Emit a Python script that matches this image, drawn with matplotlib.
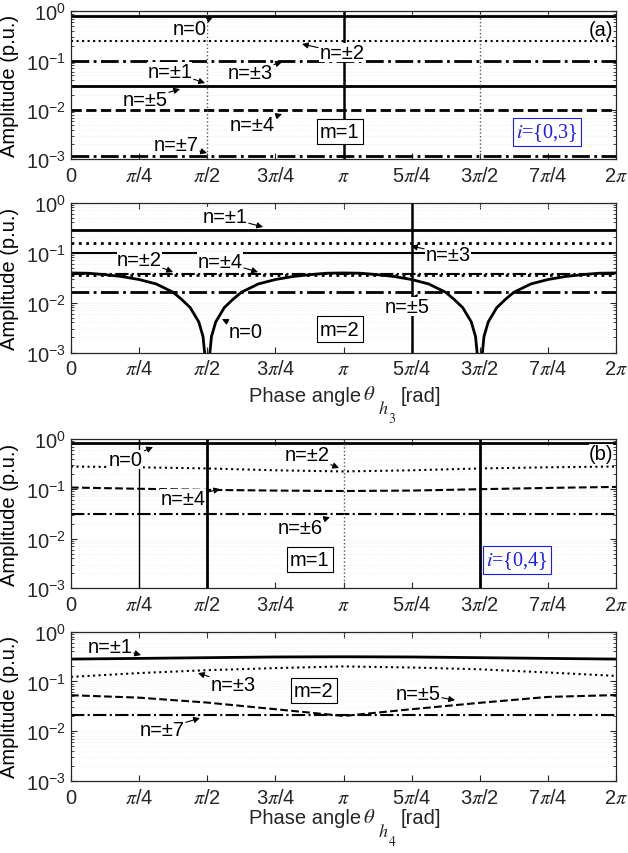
import numpy as np
import matplotlib
matplotlib.use('Agg')
import matplotlib.pyplot as plt
from matplotlib.ticker import LogLocator, NullFormatter

plt.rcParams['font.family'] = ['Liberation Sans', 'DejaVu Sans']
plt.rcParams['mathtext.fontset'] = 'stix'
plt.rcParams['font.size'] = 14

PI = np.pi

# ---- data ----
theta_flat = [0, 2 * PI]
theta_q = [k * PI / 4 for k in range(9)]          # 0, pi/4, ..., 2pi

# (a) m=1
a1_n0 = [0.81, 0.81]
a1_n2 = [0.25, 0.25]
a1_n3 = [0.10, 0.10]
a1_n1 = [0.030, 0.030]
a1_n5 = [0.031, 0.031]
a1_n4 = [0.010, 0.010]
a1_n7 = [0.00118, 0.00118]
a1_jumps = [PI / 2, PI, 3 * PI / 2]

# (a) m=2
a2_n1 = [0.284, 0.284]
a2_n3 = [0.158, 0.158]
a2_nx = [0.100, 0.100]
a2_n2 = [0.035, 0.035]
a2_n4 = [0.037, 0.037]
a2_n5 = [0.0163, 0.0163]
a2_theta_n0 = [0, 4, 8, 12, 16, 20, 24, 26, 28, 30, 31, 32, 33, 34, 36, 38, 40, 44, 48, 52, 56, 60,
               64, 68, 72, 76, 80, 84, 88, 90, 92, 94, 95, 96, 97, 98, 100, 102, 104, 108, 112, 116,
               120, 124, 128]
a2_n0 = [0.039, 0.0385, 0.036, 0.033, 0.0288, 0.0235, 0.016, 0.0115, 0.0079, 0.0041, 0.0021, 0.0003,
         0.0021, 0.0041, 0.0079, 0.0115, 0.016, 0.0235, 0.0288, 0.033, 0.036, 0.0385,
         0.039, 0.0385, 0.036, 0.033, 0.0288, 0.0235, 0.016, 0.0115, 0.0079, 0.0041, 0.0021, 0.0003,
         0.0021, 0.0041, 0.0079, 0.0115, 0.016, 0.0235, 0.0288, 0.033, 0.036, 0.0385, 0.039]
a2_jumps = [5 * PI / 4]

# (b) m=1
b1_n0 = [0.82, 0.82]
b1_n2 = [0.28, 0.27, 0.256, 0.235, 0.223, 0.235, 0.256, 0.27, 0.28]
b1_n4 = [0.106, 0.100, 0.095, 0.092, 0.090, 0.092, 0.098, 0.104, 0.109]
b1_n6 = [0.031, 0.031]
b1_jumps = [PI / 4, PI / 2, PI, 3 * PI / 2]

# (b) m=2
b2_n1 = [0.281, 0.29, 0.30, 0.31, 0.313, 0.31, 0.30, 0.29, 0.281]
b2_n3 = [0.123, 0.147, 0.168, 0.185, 0.200, 0.190, 0.175, 0.151, 0.129]
b2_n5 = [0.0526, 0.047, 0.0374, 0.0275, 0.0201, 0.0275, 0.037, 0.0486, 0.053]
b2_n7 = [0.0207, 0.0207]

xtick_labels = ['0', r'$\pi$/4', r'$\pi$/2', r'3$\pi$/4', r'$\pi$',
                r'5$\pi$/4', r'3$\pi$/2', r'7$\pi$/4', r'2$\pi$']

fig = plt.figure(figsize=(6.28, 8.54), dpi=100)
W, H = 628.0, 854.0


def make_ax(top, bottom):
    ax = fig.add_axes([71 / W, (H - bottom) / H, 545 / W, (bottom - top) / H])
    ax.set_yscale('log')
    ax.set_ylim(1e-3, 1)
    ax.set_xlim(0, 2 * PI)
    ax.set_xticks(theta_q)
    ax.set_xticklabels(xtick_labels)
    ax.yaxis.set_major_locator(LogLocator(base=10, numticks=10))
    ax.yaxis.set_minor_locator(LogLocator(base=10, subs=np.arange(2, 10), numticks=10))
    ax.yaxis.set_minor_formatter(NullFormatter())
    ax.tick_params(which='both', direction='in', top=True, right=True, colors='#262626',
                   labelcolor='#262626', labelsize=14.5)
    ax.tick_params(which='major', length=4, width=0.8)
    ax.tick_params(which='minor', length=2.5, width=0.6)
    ax.tick_params(axis='x', pad=5)
    ax.grid(True, which='both', axis='y', color='#e8e8e8', linestyle=':', linewidth=0.5)
    for s in ax.spines.values():
        s.set_color('#262626')
        s.set_linewidth(0.9)
    ax.set_ylabel('Amplitude (p.u.)', labelpad=5, fontsize=14.5)
    return ax


def label(ax, txt, xy, xytext):
    ax.annotate(txt, xy=xy, xytext=xytext, ha='center', va='center', fontsize=14.5,
                bbox=dict(boxstyle='square,pad=0', fc='white', ec='none'),
                arrowprops=dict(arrowstyle='-|>', color='k', lw=0.8, mutation_scale=9,
                                shrinkA=1, shrinkB=0))


def box(ax, txt, xy, color='k', **kw):
    ax.text(xy[0], xy[1], txt, ha='center', va='center', color=color, fontsize=14.5,
            bbox=dict(boxstyle='square,pad=0.15', fc='white', ec=color, lw=0.8), zorder=5, **kw)


def phase_label(y_main, sub):
    # MATLAB-like label with a large, low subscript
    c = '#262626'
    fig.text(361 / W, 1 - y_main / H, 'Phase angle', ha='right', va='center', fontsize=14.5, color=c)
    fig.text(363 / W, 1 - (y_main - 1) / H, r'$\theta$', ha='left', va='center', fontsize=15, color=c)
    fig.text(378 / W, 1 - (y_main + 14) / H, r'$h$', ha='left', va='center', fontsize=13, color=c)
    fig.text(388 / W, 1 - (y_main + 23) / H, r'$\mathit{' + sub + '}$', ha='left', va='center',
             fontsize=10, color=c)
    fig.text(401 / W, 1 - y_main / H, '[rad]', ha='left', va='center', fontsize=14.5, color=c)


# ---------- panel (a) m=1 ----------
ax1 = make_ax(12.3, 160.3)
ax1.plot(theta_flat, a1_n0, 'k-', lw=2)
ax1.plot(theta_flat, a1_n2, 'k:', lw=1.5)
ax1.plot(theta_flat, a1_n3, 'k-.', lw=2)
ax1.plot(theta_flat, a1_n5, 'k-', lw=1)
ax1.plot(theta_flat, a1_n1, 'k-', lw=2)
ax1.plot(theta_flat, a1_n4, 'k--', lw=2)
ax1.plot(theta_flat, a1_n7, 'k-.', lw=2)
ax1.axvline(a1_jumps[0], color='#555555', ls=':', lw=1)
ax1.axvline(a1_jumps[1], color='k', ls='-', lw=1.8)
ax1.axvline(a1_jumps[2], color='#555555', ls=':', lw=1)
label(ax1, 'n=0', (1.637, 0.766), (1.372, 0.458))
label(ax1, 'n=\u00b12', (2.663, 0.217), (3.124, 0.143))
label(ax1, 'n=\u00b13', (2.433, 0.0937), (2.064, 0.0587))
label(ax1, 'n=\u00b11', (1.545, 0.0351), (1.141, 0.0615))
label(ax1, 'n=\u00b15', (1.257, 0.0265), (0.853, 0.0166))
label(ax1, 'n=\u00b14', (2.433, 0.00826), (2.087, 0.00518))
label(ax1, 'n=\u00b17', (1.568, 0.00134), (1.211, 0.00203))
box(ax1, 'm=1', (3.10, 0.0036))
box(ax1, r'$i$={0,3}', (5.49, 0.0036), color='#1a1aff', family='Liberation Serif')
ax1.text(0.995, 0.88, '(a)', transform=ax1.transAxes, ha='right', va='center', fontsize=14.5,
         bbox=dict(boxstyle='square,pad=0', fc='white', ec='none'))

# ---------- panel (a) m=2 ----------
ax2 = make_ax(203.5, 353.5)
ax2.plot(theta_flat, a2_n1, 'k-', lw=2)
ax2.plot(theta_flat, a2_n3, 'k:', lw=2)
ax2.plot(theta_flat, a2_nx, 'k-', lw=1.5)
ax2.plot(theta_flat, a2_n2, 'k:', lw=2)
ax2.plot(theta_flat, a2_n4, 'k-.', lw=1.5)
ax2.plot(theta_flat, a2_n5, 'k-.', lw=2)
ax2.plot(np.array(a2_theta_n0) * PI / 64, a2_n0, 'k-', lw=2)
ax2.axvline(a2_jumps[0], color='k', ls='-', lw=1.8)
label(ax2, 'n=\u00b11', (2.214, 0.324), (1.775, 0.513))
label(ax2, 'n=\u00b12', (1.176, 0.0407), (0.784, 0.0741))
label(ax2, 'n=\u00b14', (2.156, 0.0407), (1.718, 0.0676))
label(ax2, 'n=0', (1.741, 0.00468), (2.018, 0.00269))
label(ax2, 'n=\u00b13', (3.92, 0.135), (4.347, 0.0933))
label(ax2, 'n=\u00b15', (4.0, 0.0148), (3.874, 0.00813))
box(ax2, 'm=2', (3.10, 0.00295))
phase_label(396, '3')

# ---------- panel (b) m=1 ----------
ax3 = make_ax(440, 589.3)
ax3.plot(theta_flat, b1_n0, 'k-', lw=2)
ax3.plot(theta_q, b1_n2, 'k:', lw=1.5)
ax3.plot(theta_q, b1_n4, 'k--', lw=1.5)
ax3.plot(theta_flat, b1_n6, 'k-.', lw=1.5)
ax3.axvline(b1_jumps[0], color='k', ls='-', lw=1)
ax3.axvline(b1_jumps[1], color='k', ls='-', lw=2)
ax3.axvline(b1_jumps[2], color='#555555', ls=':', lw=1)
ax3.axvline(b1_jumps[3], color='k', ls='-', lw=2)
label(ax3, 'n=0', (0.945, 0.69), (0.634, 0.396))
label(ax3, 'n=\u00b12', (3.09, 0.261), (2.721, 0.477))
label(ax3, 'n=\u00b14', (1.718, 0.0986), (1.291, 0.065))
label(ax3, 'n=\u00b16', (2.986, 0.0269), (2.64, 0.017))
box(ax3, 'm=1', (2.755, 0.00385))
box(ax3, r'$i$={0,4}', (5.142, 0.0037), color='#1a1aff', family='Liberation Serif')
ax3.text(0.995, 0.90, '(b)', transform=ax3.transAxes, ha='right', va='center', fontsize=14.5,
         bbox=dict(boxstyle='square,pad=0', fc='white', ec='none'))

# ---------- panel (b) m=2 ----------
ax4 = make_ax(632.7, 781.7)
ax4.plot(theta_q, b2_n1, 'k-', lw=2)
ax4.plot(theta_q, b2_n3, 'k:', lw=1.5)
ax4.plot(theta_q, b2_n5, 'k--', lw=1.5)
ax4.plot(theta_flat, b2_n7, 'k-.', lw=1.5)
label(ax4, 'n=\u00b11', (0.807, 0.338), (0.45, 0.514))
label(ax4, 'n=\u00b13', (1.464, 0.1465), (1.868, 0.0878))
label(ax4, 'n=\u00b17', (1.487, 0.0182), (1.049, 0.0108))
label(ax4, 'n=\u00b15', (4.427, 0.0417), (4.0, 0.0578))
box(ax4, 'm=2', (2.80, 0.066))
phase_label(819, '4')

fig.savefig('out.png', dpi=100)
